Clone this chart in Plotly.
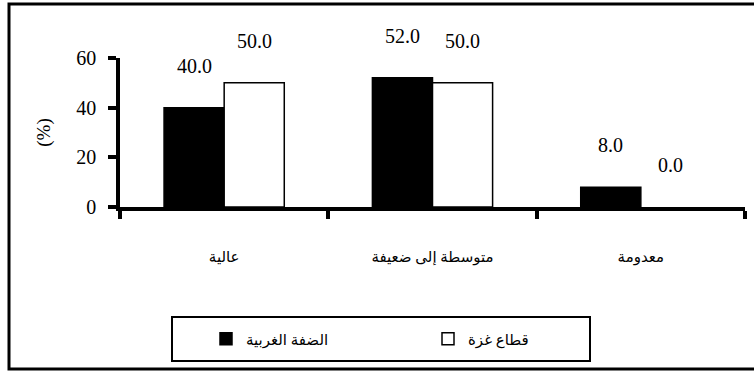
import plotly.graph_objects as go

# Categories (left to right) and the two regions' percentages
categories = ["عالية", "متوسطة إلى ضعيفة", "معدومة"]
west_bank = [40.0, 52.0, 8.0]
gaza = [50.0, 50.0, 0.0]
series_names = ["الضفة الغربية", "قطاع غزة"]
y_ticks = [0, 20, 40, 60]

W, H = 754, 371
L, R, T, B = 120, 9, 58, 164
pw, ph = W - L - R, H - T - B


def px_x(p):
    return (p - L) / pw


def px_y(p):
    return (H - B - p) / ph


def outline(values, w=1.5):
    # no outline on empty bars so nothing sits on the axis
    return [w if v > 0 else 0 for v in values]


serif = "Liberation Serif, Times New Roman, serif"
arabic = "Liberation Serif, DejaVu Sans, sans-serif"

fig = go.Figure()
fig.add_trace(go.Bar(
    x=categories, y=west_bank, name=series_names[0],
    marker=dict(color="black", line=dict(color="black", width=outline(west_bank))),
))
fig.add_trace(go.Bar(
    x=categories, y=gaza, name=series_names[1],
    marker=dict(color="white", line=dict(color="black", width=outline(gaza))),
))

# value labels floating above each bar
half = (1 - 0.423) / 4
for i, (a, b) in enumerate(zip(west_bank, gaza)):
    for off, v in ((-half, a), (half, b)):
        fig.add_annotation(
            x=i + off, y=v, xref="x", yref="y", text=f"{v:.1f}",
            showarrow=False, yshift=42,
            font=dict(family=serif, size=20, color="black"),
        )

# outer frame and legend box
fig.add_shape(type="rect", xref="paper", yref="paper",
              x0=px_x(9), x1=px_x(762), y0=px_y(369), y1=px_y(4),
              line=dict(color="black", width=3), fillcolor="rgba(0,0,0,0)")
fig.add_shape(type="rect", xref="paper", yref="paper",
              x0=px_x(172), x1=px_x(590), y0=px_y(361), y1=px_y(317),
              line=dict(color="black", width=2), fillcolor="rgba(0,0,0,0)")

fig.update_layout(
    width=W, height=H,
    margin=dict(l=L, r=R, t=T, b=B, autoexpand=False),
    paper_bgcolor="white", plot_bgcolor="white",
    barmode="group", bargap=0.423, bargroupgap=0,
    showlegend=True,
    legend=dict(
        orientation="h", x=px_x(206), y=px_y(339),
        xanchor="left", yanchor="middle",
        entrywidth=177, entrywidthmode="pixels",
        font=dict(family=arabic, size=15, color="black"),
        bgcolor="rgba(0,0,0,0)", borderwidth=0,
        traceorder="normal",
    ),
    xaxis=dict(
        type="category", showgrid=False, zeroline=False,
        showline=True, linecolor="black", linewidth=3.5,
        ticks="outside", tickson="boundaries", ticklen=8, tickwidth=3.5,
        tickcolor="black", ticklabelstandoff=33,
        tickfont=dict(family=arabic, size=15, color="black"),
        fixedrange=True,
    ),
    yaxis=dict(
        range=[0, 60], tickvals=y_ticks, showgrid=False, zeroline=False,
        showline=True, linecolor="black", linewidth=3.5,
        ticks="outside", ticklen=8, tickwidth=3.5, tickcolor="black",
        ticklabelstandoff=8,
        tickfont=dict(family=serif, size=20, color="black"),
        title=dict(text="(%)", standoff=22,
                   font=dict(family=serif, size=19, color="black")),
        fixedrange=True,
    ),
)

fig.write_html("out.html", config=dict(displayModeBar=False))
